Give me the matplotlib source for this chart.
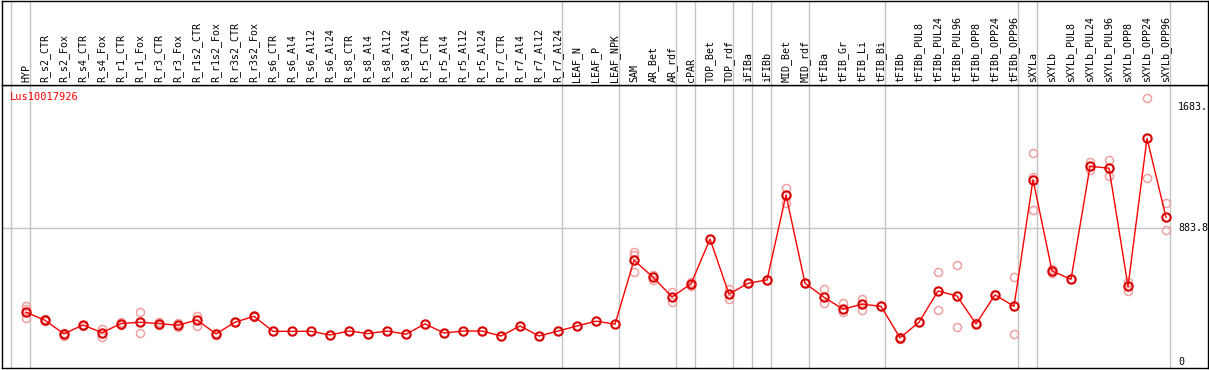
import matplotlib
matplotlib.use('Agg')
import matplotlib.pyplot as plt

# sample names, left to right
samples = [
    'HYP', 'R_s2_CTR', 'R_s2_Fox', 'R_s4_CTR', 'R_s4_Fox', 'R_r1_CTR', 'R_r1_Fox',
    'R_r3_CTR', 'R_r3_Fox', 'R_r1s2_CTR', 'R_r1s2_Fox', 'R_r3s2_CTR', 'R_r3s2_Fox',
    'R_s6_CTR', 'R_s6_Al4', 'R_s6_Al12', 'R_s6_Al24', 'R_s8_CTR', 'R_s8_Al4',
    'R_s8_Al12', 'R_s8_Al24', 'R_r5_CTR', 'R_r5_Al4', 'R_r5_Al12', 'R_r5_Al24',
    'R_r7_CTR', 'R_r7_Al4', 'R_r7_Al12', 'R_r7_Al24', 'LEAF_N', 'LEAF_P', 'LEAF_NPK',
    'SAM', 'AR_Bet', 'AR_rdf', 'cPAR', 'TOP_Bet', 'TOP_rdf', 'iFIBa', 'iFIBb',
    'MID_Bet', 'MID_rdf', 'tFIBa', 'tFIB_Gr', 'tFIB_Li', 'tFIB_Bi', 'tFIBb',
    'tFIBb_PUL8', 'tFIBb_PUL24', 'tFIBb_PUL96', 'tFIBb_OPP8', 'tFIBb_OPP24',
    'tFIBb_OPP96', 'sXYLa', 'sXYLb', 'sXYLb_PUL8', 'sXYLb_PUL24', 'sXYLb_PUL96',
    'sXYLb_OPP8', 'sXYLb_OPP24', 'sXYLb_OPP96',
]

# mean expression per sample
means = [
    328, 275, 185, 244, 193, 253, 262, 253, 242, 277, 185, 262, 301,
    202, 202, 202, 178, 204, 187, 204, 183, 251, 191, 204, 204,
    171, 237, 171, 204, 237, 269, 249,
    671, 559, 429, 515, 811, 447, 519, 541, 1102, 519,
    427, 348, 381, 367, 159, 262, 468, 435, 251, 442, 367,
    1203, 600, 545, 1291, 1278, 499, 1475, 954,
]

# individual replicates per sample
replicates = [
    [370, 350, 292], [280, 270], [171, 190], [244, 240], [216, 167], [262, 245],
    [328, 189], [262, 244], [255, 232], [305, 239], [193, 178], [262], [305, 296],
    [], [], [], [], [], [], [], [], [], [], [], [], [], [], [], [], [], [], [],
    [723, 706, 592], [574, 541], [460, 396], [530, 500], [811], [482, 414],
    [519], [541], [1146, 1047], [519],
    [482, 387], [391, 328], [418, 343], [370], [150, 165], [262], [594, 343],
    [640, 231], [255], [445], [559, 183],
    [1377, 1222, 1001], [612, 585], [548], [1318, 1266], [1332, 1225],
    [530, 471], [1739, 1212], [1047, 869],
]

# group boundaries: a separator follows each of these sample indices
group_ends = [-1, 0, 28, 31, 34, 35, 37, 38, 39, 41, 45, 52, 53, 60]

title = 'Lus10017926'
y_marks = [1683, 883.8, 0]
y_mark_labels = ['1683.', '883.8', '0']

W, H = 1209, 370
fig = plt.figure(figsize=(W / 100, H / 100), dpi=100)

x0, x1 = 1.5, 1208.0
ax = fig.add_axes([x0 / W, 2 / H, (x1 - x0) / W, 283 / H])
ax_lab = fig.add_axes([x0 / W, 285 / H, (x1 - x0) / W, 84.5 / H], sharex=ax)

xlim = (-1.29, 62.21)
ax.set_xlim(*xlim)
ax.set_ylim(-40, 1827)
ax_lab.set_ylim(0, 1)

mono = 'DejaVu Sans Mono'
grey = '#c4c4c4'

for a in (ax, ax_lab):
    for k in group_ends:
        a.axvline(k + 0.21, color=grey, linewidth=1, zorder=0)
    a.set_xticks([])
    a.set_yticks([])
    for s in a.spines.values():
        s.set_linewidth(1.0)
        s.set_color('black')

ax.plot([xlim[0], 60.21], [883.8, 883.8], color=grey, linewidth=1, zorder=0)

# replicates first, faint
for i, reps in enumerate(replicates):
    if reps:
        ax.plot([i] * len(reps), reps, linestyle='none', marker='o', markersize=5.8,
                markerfacecolor='none', markeredgecolor='#f0a0a0',
                markeredgewidth=1.1, zorder=2)

xs = list(range(len(means)))
ax.plot(xs, means, color='red', linewidth=1, zorder=3)
ax.plot(xs, means, linestyle='none', marker='o', markersize=6,
        markerfacecolor='none', markeredgecolor='#d80000',
        markeredgewidth=1.5, zorder=4)

for v, lab in zip(y_marks, y_mark_labels):
    ax.text(60.63, v, lab, fontsize=7.2, family=mono, ha='left', va='center')

for i, name in enumerate(samples):
    ax_lab.text(i, 0.03, name, rotation=90, ha='center', va='bottom',
                fontsize=7.2, family=mono)

fig.text(10 / W, 1 - 97 / H, title, color='red', fontsize=7.5, family=mono,
         ha='left', va='center')

fig.savefig('out.png', dpi=100, facecolor='white')
